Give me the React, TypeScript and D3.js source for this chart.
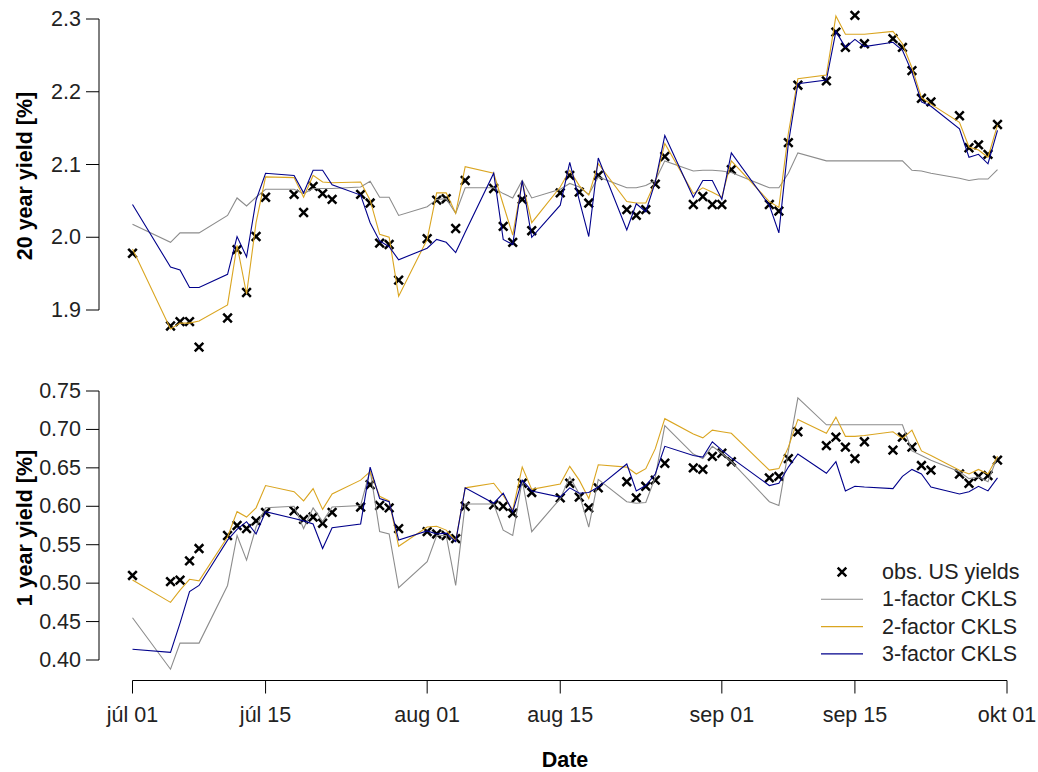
import React from "react";
import * as d3 from "d3";

const dates = [
  "2016-07-01","2016-07-05","2016-07-06","2016-07-07","2016-07-08",
  "2016-07-11","2016-07-12","2016-07-13","2016-07-14","2016-07-15",
  "2016-07-18","2016-07-19","2016-07-20","2016-07-21","2016-07-22",
  "2016-07-25","2016-07-26","2016-07-27","2016-07-28","2016-07-29",
  "2016-08-01","2016-08-02","2016-08-03","2016-08-04","2016-08-05",
  "2016-08-08","2016-08-09","2016-08-10","2016-08-11","2016-08-12",
  "2016-08-15","2016-08-16","2016-08-17","2016-08-18","2016-08-19",
  "2016-08-22","2016-08-23","2016-08-24","2016-08-25","2016-08-26",
  "2016-08-29","2016-08-30","2016-08-31","2016-09-01","2016-09-02",
  "2016-09-06","2016-09-07","2016-09-08","2016-09-09",
  "2016-09-12","2016-09-13","2016-09-14","2016-09-15","2016-09-16",
  "2016-09-19","2016-09-20","2016-09-21","2016-09-22","2016-09-23",
  "2016-09-26","2016-09-27","2016-09-28","2016-09-29","2016-09-30",
];

// 20 year yield
const obs20 = [
  1.978,1.878,1.884,1.884,1.849, 1.889,1.983,1.924,2.001,2.055,
  2.059,2.034,2.070,2.060,2.052, 2.059,2.047,1.992,1.990,1.941,
  1.998,2.051,2.053,2.012,2.078, 2.067,2.015,1.993,2.052,2.009,
  2.061,2.085,2.062,2.047,2.085, 2.038,2.030,2.038,2.073,2.111,
  2.045,2.056,2.045,2.045,2.093, 2.045,2.036,2.130,2.209,
  2.215,2.282,2.261,2.305,2.266, 2.273,2.261,2.229,2.191,2.186,
  2.167,2.123,2.127,2.114,2.155,
];
const ckls1_20 = [
  2.018,1.993,2.006,2.006,2.006, 2.030,2.054,2.043,2.055,2.066,
  2.066,2.060,2.067,2.067,2.067, 2.069,2.077,2.055,2.055,2.030,
  2.042,2.052,2.053,2.033,2.068, 2.068,2.060,2.054,2.078,2.054,
  2.066,2.074,2.069,2.059,2.083, 2.068,2.068,2.071,2.078,2.105,
  2.091,2.092,2.092,2.091,2.089, 2.068,2.068,2.088,2.116,
  2.105,2.105,2.105,2.105,2.105, 2.105,2.105,2.092,2.091,2.088,
  2.081,2.078,2.080,2.080,2.093,
];
const ckls2_20 = [
  1.984,1.874,1.882,1.882,1.885, 1.907,1.989,1.922,2.020,2.083,
  2.082,2.055,2.085,2.076,2.075, 2.076,2.051,2.004,2.000,1.919,
  1.997,2.061,2.061,2.033,2.097, 2.088,2.045,2.003,2.076,2.020,
  2.069,2.092,2.071,2.058,2.101, 2.049,2.047,2.047,2.076,2.129,
  2.060,2.068,2.062,2.055,2.105, 2.049,2.041,2.143,2.218,
  2.223,2.304,2.279,2.279,2.279, 2.283,2.266,2.233,2.192,2.183,
  2.158,2.124,2.120,2.110,2.154,
];
const ckls3_20 = [
  2.045,1.959,1.955,1.931,1.931, 1.949,2.001,1.973,2.051,2.088,
  2.085,2.061,2.092,2.092,2.072, 2.058,2.020,1.995,1.987,1.969,
  1.985,1.997,1.993,1.979,2.007, 2.088,1.997,1.990,2.078,2.000,
  2.044,2.103,2.051,2.001,2.109, 2.010,2.046,2.035,2.076,2.140,
  2.055,2.078,2.078,2.052,2.116, 2.044,2.006,2.129,2.211,
  2.216,2.283,2.261,2.272,2.262, 2.268,2.257,2.227,2.186,2.180,
  2.149,2.110,2.114,2.101,2.147,
];

// 1 year yield
const obs1 = [
  0.510,0.502,0.504,0.529,0.545, 0.562,0.575,0.571,0.581,0.592,
  0.594,0.583,0.586,0.578,0.592, 0.599,0.628,0.601,0.598,0.571,
  0.567,0.564,0.562,0.558,0.600, 0.602,0.600,0.591,0.630,0.618,
  0.611,0.630,0.612,0.598,0.624, 0.632,0.611,0.626,0.634,0.656,
  0.650,0.648,0.665,0.669,0.658, 0.637,0.639,0.662,0.697,
  0.679,0.690,0.677,0.662,0.684, 0.673,0.690,0.677,0.653,0.647,
  0.642,0.630,0.639,0.640,0.660,
];
const ckls1_1 = [
  0.455,0.388,0.422,0.422,0.422, 0.497,0.562,0.530,0.573,0.598,
  0.600,0.571,0.598,0.580,0.599, 0.601,0.647,0.567,0.564,0.494,
  0.528,0.562,0.562,0.497,0.603, 0.603,0.569,0.562,0.634,0.567,
  0.610,0.638,0.616,0.573,0.635, 0.606,0.604,0.605,0.638,0.705,
  0.668,0.662,0.678,0.669,0.658, 0.606,0.601,0.672,0.741,
  0.706,0.706,0.706,0.706,0.706, 0.706,0.706,0.672,0.666,0.660,
  0.645,0.636,0.638,0.632,0.665,
];
const ckls2_1 = [
  0.504,0.475,0.491,0.505,0.503, 0.560,0.593,0.586,0.598,0.627,
  0.619,0.607,0.623,0.596,0.616, 0.634,0.645,0.613,0.607,0.548,
  0.573,0.574,0.569,0.555,0.624, 0.630,0.614,0.595,0.651,0.622,
  0.629,0.652,0.634,0.610,0.654, 0.651,0.642,0.649,0.675,0.714,
  0.694,0.689,0.699,0.697,0.695, 0.647,0.649,0.677,0.713,
  0.695,0.716,0.691,0.691,0.692, 0.697,0.688,0.699,0.672,0.666,
  0.647,0.642,0.648,0.642,0.665,
];
const ckls3_1 = [
  0.414,0.410,0.448,0.489,0.497, 0.556,0.570,0.580,0.564,0.593,
  0.584,0.581,0.577,0.545,0.572, 0.577,0.651,0.610,0.606,0.556,
  0.568,0.564,0.565,0.554,0.624, 0.604,0.617,0.593,0.634,0.620,
  0.612,0.624,0.617,0.618,0.625, 0.655,0.620,0.627,0.642,0.678,
  0.666,0.664,0.684,0.673,0.663, 0.627,0.630,0.651,0.668,
  0.643,0.658,0.620,0.626,0.625, 0.623,0.639,0.648,0.642,0.625,
  0.616,0.619,0.626,0.620,0.637,
];

const xTickDates = ["2016-07-01","2016-07-15","2016-08-01","2016-08-15","2016-09-01","2016-09-15","2016-10-01"];
const xTickLabels = ["júl 01","júl 15","aug 01","aug 15","sep 01","sep 15","okt 01"];
const yTicksTop = [1.9, 2.0, 2.1, 2.2, 2.3];
const yTicksBottom = [0.40, 0.45, 0.50, 0.55, 0.60, 0.65, 0.70, 0.75];

const seriesNames = ["obs. US yields", "1-factor CKLS", "2-factor CKLS", "3-factor CKLS"];
const seriesColors = ["#000000", "#8c8c8c", "#DAA520", "#00008B"];

const FONT = "'Liberation Sans', Arial, sans-serif";
const FS = 21.5;

const parse = d3.utcParse("%Y-%m-%d");
const xDates = dates.map((d) => parse(d) as Date);

const x = d3
  .scaleUtc()
  .domain([parse("2016-07-01") as Date, parse("2016-10-01") as Date])
  .range([132.5, 1007]);

const yTop = d3.scaleLinear().domain([1.9, 2.3]).range([310, 19]);
const yBot = d3.scaleLinear().domain([0.4, 0.75]).range([660, 391]);

function Cross({ cx, cy }: { cx: number; cy: number }) {
  const r = 4.3;
  return (
    <path
      d={`M${cx - r},${cy - r}L${cx + r},${cy + r}M${cx - r},${cy + r}L${cx + r},${cy - r}`}
      stroke="#000"
      strokeWidth={2.5}
      fill="none"
    />
  );
}

function Panel({
  y,
  obs,
  models,
  ticks,
  fmt,
  label,
  labelY,
}: {
  y: d3.ScaleLinear<number, number>;
  obs: number[];
  models: number[][];
  ticks: number[];
  fmt: (v: number) => string;
  label: string;
  labelY: number;
}) {
  const line = d3
    .line<number>()
    .x((_, i) => x(xDates[i]))
    .y((v) => y(v));
  const axisX = 99;
  return (
    <g>
      <line x1={axisX} x2={axisX} y1={y(ticks[0])} y2={y(ticks[ticks.length - 1])} stroke="#000" strokeWidth={1} />
      {ticks.map((t) => (
        <g key={t}>
          <line x1={axisX - 13} x2={axisX} y1={y(t)} y2={y(t)} stroke="#000" strokeWidth={1} />
          <text
            x={81}
            y={y(t)}
            textAnchor="end"
            dominantBaseline="central"
            fontFamily={FONT}
            fontSize={FS}
            fill="#222"
          >
            {fmt(t)}
          </text>
        </g>
      ))}
      <text
        transform={`translate(25,${labelY}) rotate(-90)`}
        textAnchor="middle"
        dominantBaseline="central"
        fontFamily={FONT}
        fontSize={FS}
        fontWeight="bold"
        fill="#000"
      >
        {label}
      </text>
      {obs.map((v, i) => (
        <Cross key={i} cx={x(xDates[i])} cy={y(v)} />
      ))}
      {models.map((m, k) => (
        <path key={k} d={line(m) || ""} fill="none" stroke={seriesColors[k + 1]} strokeWidth={1.1} />
      ))}
    </g>
  );
}

export default function App() {
  const axisY = 680.5;
  return (
    <svg
      width={1038}
      height={772}
      style={{ position: "absolute", left: 0, top: 0, background: "#fff" }}
    >
      <rect x={0} y={0} width={1038} height={772} fill="#fff" />
      <Panel
        y={yTop}
        obs={obs20}
        models={[ckls1_20, ckls2_20, ckls3_20]}
        ticks={yTicksTop}
        fmt={(v) => v.toFixed(1)}
        label="20 year yield [%]"
        labelY={176}
      />
      <Panel
        y={yBot}
        obs={obs1}
        models={[ckls1_1, ckls2_1, ckls3_1]}
        ticks={yTicksBottom}
        fmt={(v) => v.toFixed(2)}
        label="1 year yield [%]"
        labelY={528}
      />
      {/* x axis */}
      <line
        x1={x(parse(xTickDates[0]) as Date)}
        x2={x(parse(xTickDates[xTickDates.length - 1]) as Date)}
        y1={axisY}
        y2={axisY}
        stroke="#000"
        strokeWidth={1}
      />
      {xTickDates.map((d, i) => {
        const xx = x(parse(d) as Date);
        return (
          <g key={d}>
            <line x1={xx} x2={xx} y1={axisY} y2={axisY + 13} stroke="#000" strokeWidth={1} />
            <text
              x={xx}
              y={715}
              textAnchor="middle"
              dominantBaseline="central"
              fontFamily={FONT}
              fontSize={FS}
              fill="#222"
            >
              {xTickLabels[i]}
            </text>
          </g>
        );
      })}
      <text
        x={565}
        y={760}
        textAnchor="middle"
        dominantBaseline="central"
        fontFamily={FONT}
        fontSize={FS}
        fontWeight="bold"
        fill="#000"
      >
        Date
      </text>
      {/* legend */}
      {seriesNames.map((name, i) => {
        const ly = 572 + i * 27.3;
        return (
          <g key={name}>
            {i === 0 ? (
              <Cross cx={842} cy={ly} />
            ) : (
              <line x1={821} x2={863} y1={ly} y2={ly} stroke={seriesColors[i]} strokeWidth={1.1} />
            )}
            <text
              x={882}
              y={ly}
              dominantBaseline="central"
              fontFamily={FONT}
              fontSize={FS}
              fill="#222"
            >
              {name}
            </text>
          </g>
        );
      })}
    </svg>
  );
}
